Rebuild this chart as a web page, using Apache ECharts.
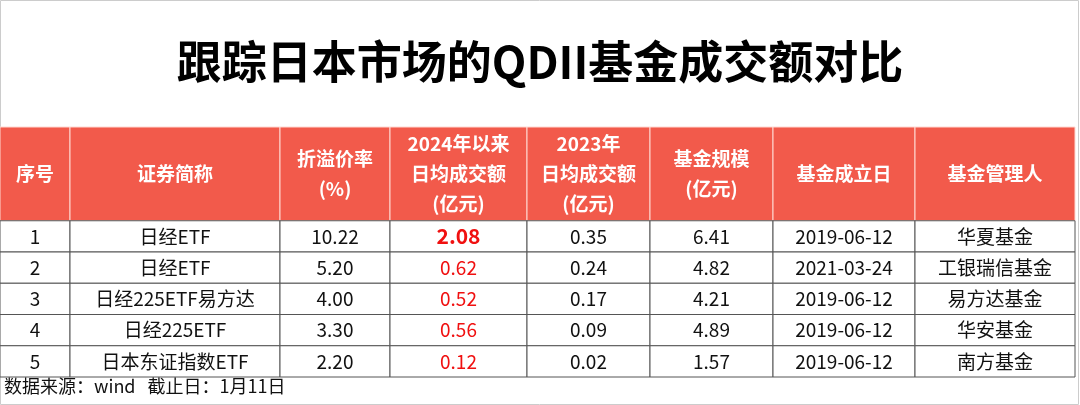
<!DOCTYPE html>
<html><head><meta charset="utf-8">
<script src="https://cdn.jsdelivr.net/npm/echarts@6/dist/echarts.min.js"></script>
<style>html,body{margin:0;padding:0;background:#fff}#c{width:1080px;height:405px}</style>
</head><body><div id="c"></div>
<script>
const headers = ['序号','证券简称','折溢价率\n(%)','2024年以来\n日均成交额\n(亿元)','2023年\n日均成交额\n(亿元)','基金规模\n(亿元)','基金成立日','基金管理人'];
const ids = ['1','2','3','4','5'];
const names = ['日经ETF','日经ETF','日经225ETF易方达','日经225ETF','日本东证指数ETF'];
const premium = ['10.22','5.20','4.00','3.30','2.20'];
const avg2024 = ['2.08','0.62','0.52','0.56','0.12'];
const avg2023 = ['0.35','0.24','0.17','0.09','0.02'];
const scale = ['6.41','4.82','4.21','4.89','1.57'];
const setup = ['2019-06-12','2021-03-24','2019-06-12','2019-06-12','2019-06-12'];
const manager = ['华夏基金','工银瑞信基金','易方达基金','华安基金','南方基金'];
// layout (style), not data
const colEdges = [0,70,280,390,527,650,773,915,1075];
const headerRows = 3;

const columns = [ids,names,premium,avg2024,avg2023,scale,setup,manager];
const cells = [];
headers.forEach((h,c)=>cells.push({value:[c,0,1],text:h}));
for(let r=0;r<5;r++) for(let c=0;c<8;c++) cells.push({value:[c,r+1,0],text:columns[c][r]});

const FONT='"Noto Sans CJK SC","Noto Sans",sans-serif';
function renderItem(params, api){
  const c=api.value(0), r=api.value(1), isH=api.value(2)===1;
  const y0 = isH?0:headerRows+(r-1), y1 = isH?headerRows:headerRows+r;
  const p0=api.coord([colEdges[c],y0]), p1=api.coord([colEdges[c+1],y1]);
  const x=p0[0], y=p0[1], w=p1[0]-p0[0], h=p1[1]-p0[1];
  const text = cells[params.dataIndex].text;
  let fill='#111', bold='normal', size=19;
  if(isH){fill='#fff';bold='bold';size=19;}
  else if(c===3){fill='#f01010'; if(r===1){bold='bold';size=21;}}
  return {type:'group',children:[
    {type:'rect',shape:{x,y,width:w,height:h},style:{fill:isH?'#f25a4b':'#fff',stroke:isH?'#ffd8d2':'#555',lineWidth:1}},
    {type:'text',style:{x:x+w/2,y:y+h/2,text,fill,fontSize:size,fontWeight:bold,fontFamily:FONT,align:'center',verticalAlign:'middle',lineHeight:isH?30:20}}
  ]};
}
const chart=echarts.init(document.getElementById('c'));
chart.setOption({
  animation:false,
  title:{text:'跟踪日本市场的QDII基金成交额对比',left:'center',top:34,textStyle:{fontSize:45,fontWeight:'bold',color:'#000',fontFamily:FONT}},
  graphic:[
    {type:'rect',shape:{x:0.5,y:0.5,width:1078,height:404},style:{fill:'none',stroke:'#ccc',lineWidth:1},z:-1},
    {type:'text',left:4,top:377,style:{text:'数据来源：wind   截止日：1月11日',fontSize:18,fill:'#111',fontFamily:FONT}}
  ],
  grid:{left:0,right:0,top:127,bottom:28},
  xAxis:{type:'value',min:0,max:1080,show:false},
  yAxis:{type:'value',min:0,max:8,inverse:true,show:false},
  series:[{type:'custom',renderItem,data:cells}]
});
</script></body></html>
